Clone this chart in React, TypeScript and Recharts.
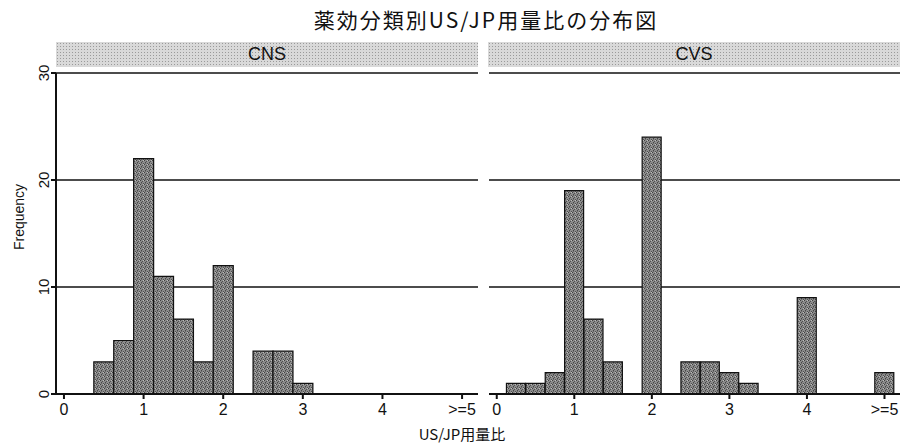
import { BarChart, Bar, XAxis, YAxis, CartesianGrid } from 'recharts';

// 薬効分類別 US/JP 用量比の分布 (bin width 0.25)
const cnsRatio = [0.5, 0.75, 1, 1.25, 1.5, 1.75, 2, 2.5, 2.75, 3];
const cnsFreq = [3, 5, 22, 11, 7, 3, 12, 4, 4, 1];
const cvsRatio = [0.25, 0.5, 0.75, 1, 1.25, 1.5, 2, 2.5, 2.75, 3, 3.25, 4, 5];
const cvsFreq = [1, 1, 2, 19, 7, 3, 24, 3, 3, 2, 1, 9, 2];
const xTicks = [0, 1, 2, 3, 4, 5];
const xTickLabels = ['0', '1', '2', '3', '4', '>=5'];
const yTicks = [0, 10, 20, 30];

const cnsData = cnsRatio.map((r, i) => ({ ratio: r, freq: cnsFreq[i] }));
const cvsData = cvsRatio.map((r, i) => ({ ratio: r, freq: cvsFreq[i] }));

const font = '"Liberation Sans", Arial, sans-serif';
const jpFont = '"Noto Sans CJK JP", "Liberation Sans", sans-serif';

const fmtX = (v: number) => xTickLabels[xTicks.indexOf(v)] ?? String(v);

const YTick = (props: any) => {
  const { x, y, payload } = props;
  return (
    <text x={x} y={y} transform={`rotate(-90, ${x}, ${y})`} textAnchor="middle"
      fontSize={15} fontFamily={font} fill="#111">
      {payload.value}
    </text>
  );
};

const band = (left: number, width: number, label: string) => (
  <div style={{
    position: 'absolute', left, top: 42, width, height: 25,
    backgroundColor: '#d9d9d9',
    backgroundImage: 'radial-gradient(#9a9a9a 0.7px, transparent 0.9px)',
    backgroundSize: '3px 3px',
    fontFamily: font, fontSize: 18, lineHeight: '25px', textAlign: 'center', color: '#111',
  }}>{label}</div>
);

const Panel = ({ data, showY }: { data: any[]; showY: boolean }) => (
  <BarChart width={showY ? 480 : 420} height={444} data={data}
    margin={{ top: 73, right: showY ? 2 : 0, bottom: 20, left: showY ? 16 : 9 }}
    barCategoryGap={0} barGap={0}>
    <CartesianGrid vertical={false} horizontalValues={[10, 20, 30]} stroke="#111" strokeWidth={1.6} />
    <XAxis dataKey="ratio" type="number" domain={[-0.1, 5.2]} ticks={xTicks} tickFormatter={fmtX}
      allowDataOverflow stroke="#111" strokeWidth={2} tickSize={5} tickMargin={5}
      tick={{ fontSize: 16, fontFamily: font, fill: '#111' }} />
    <YAxis domain={[0, 30]} ticks={yTicks} hide={!showY} width={40} stroke="#111" strokeWidth={2}
      tickSize={5} tickMargin={2} tick={YTick} />
    <Bar dataKey="freq" fill="url(#stip)" stroke="#111" strokeWidth={1.2} isAnimationActive={false} />
  </BarChart>
);

export default function App() {
  return (
    <div style={{ position: 'absolute', left: 0, top: 0, width: 900, height: 444, background: '#fff', overflow: 'hidden' }}>
      <svg width={0} height={0} style={{ position: 'absolute' }}>
        <defs>
          <pattern id="stip" width={4} height={4} patternUnits="userSpaceOnUse">
            <rect width={4} height={4} fill="#8c8c8c" />
            <rect x={0} y={0} width={1} height={1} fill="#404040" />
            <rect x={2} y={1} width={1} height={1} fill="#505050" />
            <rect x={1} y={2} width={1} height={1} fill="#474747" />
            <rect x={3} y={3} width={1} height={1} fill="#505050" />
            <rect x={3} y={0} width={1} height={1} fill="#bdbdbd" />
            <rect x={1} y={3} width={1} height={1} fill="#6a6a6a" />
          </pattern>
        </defs>
      </svg>
      <div style={{ position: 'absolute', left: 0, top: 4, width: 972, textAlign: 'center',
        fontFamily: jpFont, fontSize: 21, letterSpacing: 2, color: '#111' }}>
        薬効分類別US/JP用量比の分布図
      </div>
      {band(56, 422, 'CNS')}
      {band(488, 412, 'CVS')}
      <div style={{ position: 'absolute', left: 0, top: 0 }}>
        <Panel data={cnsData} showY />
      </div>
      <div style={{ position: 'absolute', left: 480, top: 0 }}>
        <Panel data={cvsData} showY={false} />
      </div>
      <div style={{ position: 'absolute', left: 19, top: 217, width: 0, height: 0 }}>
        <div style={{ position: 'absolute', left: -50, top: -9, width: 100, textAlign: 'center',
          transform: 'rotate(-90deg)', fontFamily: font, fontSize: 14, color: '#111', lineHeight: '18px' }}>
          Frequency
        </div>
      </div>
      <div style={{ position: 'absolute', left: 362, top: 425, width: 200, textAlign: 'center',
        fontFamily: jpFont, fontSize: 15, color: '#111', lineHeight: '18px' }}>
        US/JP用量比
      </div>
    </div>
  );
}
